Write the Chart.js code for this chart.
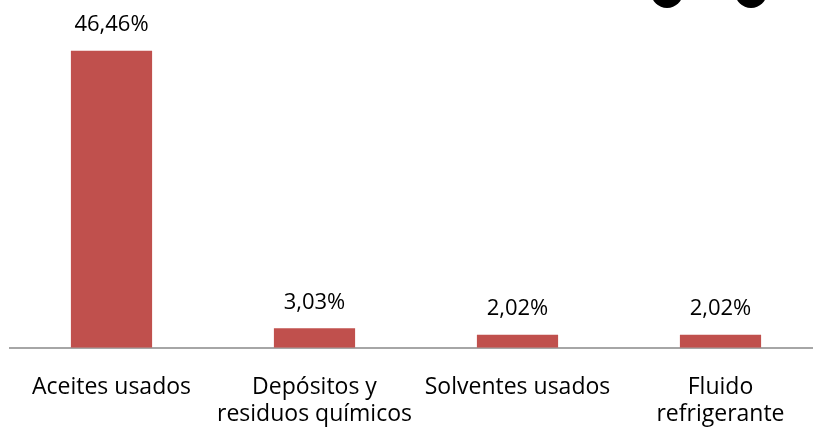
<!DOCTYPE html>
<html>
<head>
<meta charset="utf-8">
<script src="https://cdn.jsdelivr.net/npm/chart.js@4"></script>
<style>
html, body { margin: 0; padding: 0; background: #fff; overflow: hidden; }
#wrap { position: relative; width: 822px; height: 427px; }
canvas { display: block; }
.dot { position: absolute; width: 32px; height: 32px; border-radius: 50%; background: #000; top: -24px; }
</style>
</head>
<body>
<div id="wrap">
<canvas id="chart1"></canvas>
<div class="dot" style="left:651px"></div>
<div class="dot" style="left:735px"></div>
</div>
<script>
var categories = [
	['Aceites usados'],
	['Depósitos y', 'residuos químicos'],
	['Solventes usados'],
	['Fluido', 'refrigerante']
];
var values = [46.46, 3.03, 2.02, 2.02];
var valueLabels = ['46,46%', '3,03%', '2,02%', '2,02%'];

var labelPlugin = {
	id: 'barLabels',
	afterDatasetsDraw: function(chart) {
		var ctx = chart.ctx;
		var meta = chart.getDatasetMeta(0);
		ctx.save();
		ctx.font = '22px "Open Sans"';
		ctx.fillStyle = '#000';
		ctx.textAlign = 'center';
		ctx.textBaseline = 'middle';
		meta.data.forEach(function(bar, i) {
			ctx.fillText(valueLabels[i], bar.x, bar.y - 26);
		});
		ctx.restore();
	}
};

var ctx = document.getElementById("chart1").getContext("2d");
ctx.canvas.width = 822;
ctx.canvas.height = 427;
new Chart(ctx, {
	type: 'bar',
	data: {
		labels: categories,
		datasets: [{
			data: values,
			backgroundColor: '#c0504d',
			barPercentage: 0.4,
			categoryPercentage: 1
		}]
	},
	options: {
		responsive: false,
		animation: false,
		layout: { padding: { left: 10, right: 0, top: 28, bottom: -19 } },
		plugins: { legend: { display: false }, tooltip: { enabled: false } },
		scales: {
			x: {
				grid: { display: false },
				border: { display: true, color: '#a6a6a6', width: 2 },
				ticks: { color: '#000', font: { family: 'Open Sans', size: 23, lineHeight: 1.18 }, padding: 18, maxRotation: 0, autoSkip: false }
			},
			y: {
				display: false,
				min: 0,
				max: 50
			}
		}
	},
	plugins: [labelPlugin]
});
</script>
</body>
</html>
